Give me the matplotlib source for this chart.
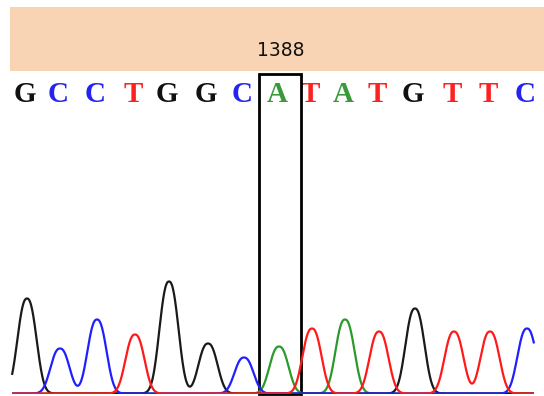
import matplotlib
matplotlib.use("Agg")
import matplotlib.pyplot as plt
import numpy as np

# base calls and trace peaks (scan position, peak height)
bases = ["G", "C", "C", "T", "G", "G", "C", "A", "T", "A", "T", "G", "T", "T", "C"]
peak_pos = [27, 60, 97, 135, 169, 208, 244, 279, 312, 345, 379, 415, 454, 490, 527]
peak_height = [95, 45, 74, 59, 112, 50, 36, 47, 65, 74, 62, 85, 62, 62, 65]
marked_base = 7
marked_label = "1388"

base_colors = {"G": "#1a1a1a", "C": "#2020ff", "T": "#ff1a1a", "A": "#2a9a2a"}
letter_colors = {"G": "#111111", "C": "#2424ee", "T": "#ff2020", "A": "#3a9a3a"}

W, H = 544, 396
fig = plt.figure(figsize=(W / 100, H / 100), dpi=100)

# overlay axes in pixel coordinates
ax = fig.add_axes([0, 0, 1, 1])
ax.set_xlim(0, W)
ax.set_ylim(H, 0)
ax.axis("off")

ax.add_patch(plt.Rectangle((10, 7), W - 10, 64, color="#f9d4b4", lw=0))
ax.text(peak_pos[marked_base] + 2, 51, marked_label, ha="center", va="center",
        fontsize=13.5, family="DejaVu Sans", color="#111111")

for b, x in zip(bases, peak_pos):
    ax.text(x - 2, 95, b, ha="center", va="center", fontsize=21,
            family="Liberation Serif", weight="bold", color=letter_colors[b])

# trace axes: baseline at pixel 393
base_px = 393.5
top_px = 260
tax = fig.add_axes([0, (H - base_px) / H, 1, (base_px - top_px) / H])
tax.set_xlim(0, W)
tax.set_ylim(0, base_px - top_px)
tax.axis("off")
tax.patch.set_alpha(0)

x = np.linspace(12, 534, 1500)
hwhm = 10.5
for ch in ["A", "G", "C", "T"]:
    y = np.zeros_like(x)
    for b, p, h in zip(bases, peak_pos, peak_height):
        if b == ch:
            y += h * np.exp(-0.693 * (np.abs(x - p) / hwhm) ** 2.4)
    tax.plot(x, y, color=base_colors[ch], lw=1.6, solid_capstyle="butt")

# highlight box around the marked base
bx = peak_pos[marked_base]
ax.add_patch(plt.Rectangle((bx - 20, 74), 42, 320, fill=False, ec="black", lw=2, zorder=5))

fig.savefig("out.png", dpi=100)
